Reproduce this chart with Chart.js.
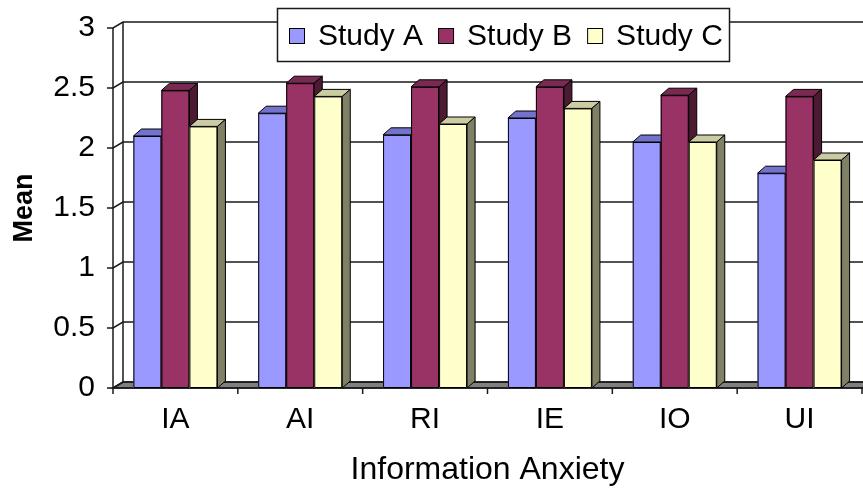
<!DOCTYPE html>
<html>
<head>
<meta charset="utf-8">
<script src="https://cdn.jsdelivr.net/npm/chart.js@4/dist/chart.umd.min.js"></script>
<style>
html,body{margin:0;padding:0;background:#fff;}
#wrap{width:863px;height:497px;position:relative;}
</style>
</head>
<body>
<div id="wrap"><canvas id="c"></canvas></div>
<script>
// ---- data ----
const categories = ['IA', 'AI', 'RI', 'IE', 'IO', 'UI'];
const seriesNames = ['Study A', 'Study B', 'Study C'];
const studyA = [2.10, 2.29, 2.11, 2.25, 2.05, 1.79];
const studyB = [2.48, 2.54, 2.51, 2.51, 2.44, 2.43];
const studyC = [2.18, 2.43, 2.20, 2.33, 2.05, 1.90];
const yTickMin = 0, yTickMax = 3, yTickStep = 0.5;

// ---- styles ----
const FONT = '"Liberation Sans", Arial, sans-serif';
const frontColors = ['#9999FF', '#993366', '#FFFFCC'];
const topColors = ['#7373CC', '#7A2952', '#CCCCA3'];
const sideColors = ['#5C5CA3', '#4D1A33', '#808066'];
const WALL_DX = 10, WALL_DY = 6;
const BAR_DX = 8, BAR_DY = 7;

function line(ctx, x1, y1, x2, y2) {
  ctx.beginPath(); ctx.moveTo(x1, y1); ctx.lineTo(x2, y2); ctx.stroke();
}

const threeD = {
  id: 'threeD',
  beforeDatasetsDraw(chart) {
    const ctx = chart.ctx;
    const {left, right, top, bottom} = chart.chartArea;
    const ys = chart.scales.y;
    ctx.save();
    ctx.strokeStyle = '#1a1a1a';
    ctx.lineWidth = 1.5;
    // floor
    ctx.fillStyle = '#808080';
    ctx.beginPath();
    ctx.moveTo(left, bottom); ctx.lineTo(right, bottom);
    ctx.lineTo(right + WALL_DX, bottom - WALL_DY); ctx.lineTo(left + WALL_DX, bottom - WALL_DY);
    ctx.closePath(); ctx.fill(); ctx.stroke();
    // grid lines on side + back wall, tick marks
    ys.ticks.forEach(t => {
      const py = ys.getPixelForValue(t.value);
      ctx.beginPath();
      ctx.moveTo(left - 6, py); ctx.lineTo(left, py);
      ctx.lineTo(left + WALL_DX, py - WALL_DY);
      ctx.lineTo(chart.width + 20, py - WALL_DY);
      ctx.stroke();
    });
    // back wall left edge
    line(ctx, left + WALL_DX, ys.getPixelForValue(yTickMax) - WALL_DY, left + WALL_DX, bottom - WALL_DY);
    // front value axis
    line(ctx, left, ys.getPixelForValue(yTickMax), left, bottom);
    // category axis
    line(ctx, left, bottom, chart.width, bottom);
    const n = categories.length;
    for (let i = 0; i <= n; i++) {
      const px = left + i * (right - left) / n;
      line(ctx, px, bottom, px, bottom + 6);
    }
    ctx.restore();
  },
  afterDatasetsDraw(chart) {
    const ctx = chart.ctx;
    const metas = chart.data.datasets.map((d, i) => chart.getDatasetMeta(i));
    ctx.save();
    ctx.strokeStyle = '#000';
    ctx.lineWidth = 1;
    ctx.lineJoin = 'round';
    for (let c = 0; c < categories.length; c++) {
      metas.forEach((meta, di) => {
        const el = meta.data[c];
        if (!el) return;
        const p = el.getProps(['x', 'y', 'base', 'width'], true);
        const x0 = p.x - p.width / 2, x1 = p.x + p.width / 2;
        // front face
        ctx.fillStyle = frontColors[di];
        ctx.fillRect(x0, p.y, x1 - x0, p.base - p.y);
        ctx.strokeRect(x0 + 0.5, p.y + 0.5, x1 - x0 - 1, p.base - p.y - 1);
        // top face
        ctx.fillStyle = topColors[di];
        ctx.beginPath();
        ctx.moveTo(x0, p.y); ctx.lineTo(x0 + BAR_DX, p.y - BAR_DY);
        ctx.lineTo(x1 + BAR_DX, p.y - BAR_DY); ctx.lineTo(x1, p.y);
        ctx.closePath(); ctx.fill(); ctx.stroke();
        // side face
        ctx.fillStyle = sideColors[di];
        ctx.beginPath();
        ctx.moveTo(x1, p.y); ctx.lineTo(x1 + BAR_DX, p.y - BAR_DY);
        ctx.lineTo(x1 + BAR_DX, p.base - BAR_DY); ctx.lineTo(x1, p.base);
        ctx.closePath(); ctx.fill(); ctx.stroke();
      });
    }
    ctx.restore();
  },
  afterDraw(chart) {
    // legend box
    const ctx = chart.ctx;
    ctx.save();
    const bx = 277.5, by = 8.5, bw = 452, bh = 53;
    ctx.fillStyle = '#fff';
    ctx.fillRect(bx, by, bw, bh);
    ctx.strokeStyle = '#1a1a1a';
    ctx.lineWidth = 1.5;
    ctx.strokeRect(bx, by, bw, bh);
    ctx.font = '30px ' + FONT;
    ctx.textBaseline = 'middle';
    ctx.fillStyle = '#000';
    let x = 289;
    const cy = 36;
    chart.data.datasets.forEach((ds, i) => {
      ctx.fillStyle = ds.backgroundColor;
      ctx.fillRect(x + 0.5, cy - 7.5, 15, 15);
      ctx.strokeStyle = '#000'; ctx.lineWidth = 1;
      ctx.strokeRect(x + 0.5, cy - 7.5, 15, 15);
      x += 29;
      ctx.fillStyle = '#000';
      ctx.fillText(ds.label, x, cy + 1);
      x += ctx.measureText(ds.label).width + 15;
    });
    ctx.restore();
  }
};

const datasets = [studyA, studyB, studyC].map((vals, i) => ({
  label: seriesNames[i],
  data: vals,
  backgroundColor: frontColors[i],
  borderColor: '#000',
  borderWidth: 1,
  barPercentage: 1.0,
  categoryPercentage: 0.673
}));

new Chart(document.getElementById('c'), {
  type: 'bar',
  data: { labels: categories, datasets },
  options: {
    responsive: true,
    maintainAspectRatio: false,
    animation: false,
    layout: { padding: { top: 22, right: 1, left: 0, bottom: 0 } },
    plugins: { legend: { display: false }, tooltip: { enabled: false } },
    scales: {
      x: {
        grid: { display: false },
        border: { display: false },
        ticks: { color: '#000', font: { family: FONT, size: 30 }, padding: 6, maxRotation: 0 },
        title: { display: true, text: 'Information Anxiety', color: '#000',
                 font: { family: FONT, size: 32 }, padding: { top: 0, bottom: 8 } },
        afterFit(scale) { scale.height = 109; }
      },
      y: {
        min: yTickMin, max: yTickMax,
        grid: { display: false },
        border: { display: false },
        ticks: { stepSize: yTickStep, color: '#000', font: { family: FONT, size: 30 }, padding: 10,
                 callback: (v) => String(v) },
        title: { display: true, text: 'Mean', color: '#000',
                 font: { family: FONT, size: 27, weight: 'bold' }, padding: { top: 8, bottom: 0 } },
        afterFit(scale) { scale.width = 113; }
      }
    }
  },
  plugins: [threeD]
});
</script>
</body>
</html>
